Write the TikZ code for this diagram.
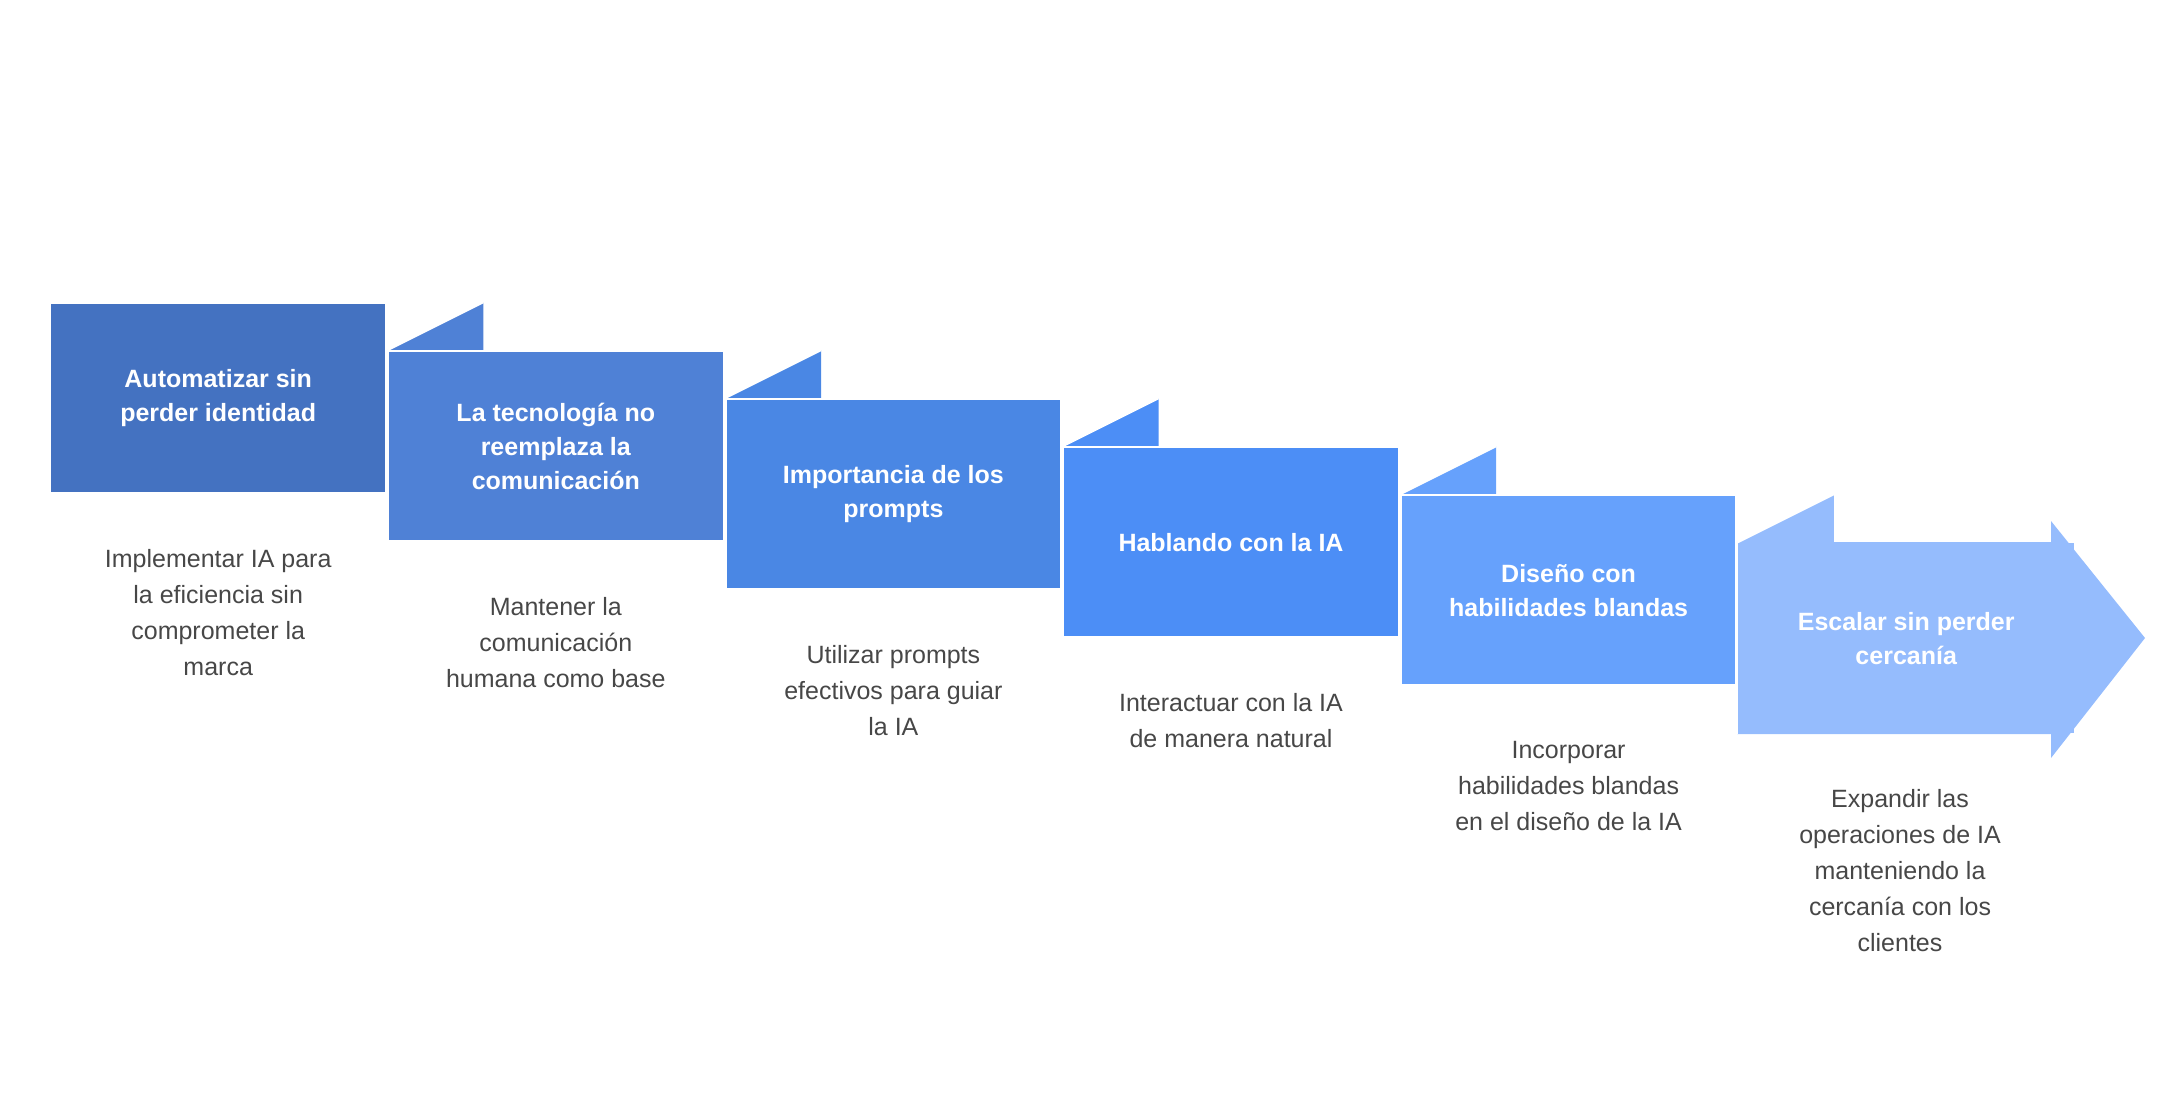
\documentclass[tikz,border=0pt]{standalone}
\usepackage{fontspec}
\setmainfont{Liberation Sans}
\begin{document}
\begin{tikzpicture}[x=0.5pt,y=-0.5pt,
  box/.style={rectangle,draw=white,line width=1.2pt,minimum width=168pt,minimum height=95pt,anchor=north west,inner sep=0pt,align=center,text=white,font=\bfseries\fontsize{12.5}{17}\selectfont},
  desc/.style={anchor=north,align=center,text=black!72,font=\fontsize{12.5}{18}\selectfont},
  tabline/.style={draw=white,line width=1.2pt}]
\useasboundingbox (0,0) rectangle (2184,1116);
\definecolor{c1}{HTML}{4472C1}
\definecolor{c2}{HTML}{4F81D6}
\definecolor{c3}{HTML}{4A87E4}
\definecolor{c4}{HTML}{4C8EF6}
\definecolor{c5}{HTML}{66A1FC}
\definecolor{c6}{HTML}{95BCFD}
% arrow (box 6)
\fill[c6] (1737,542) -- (2051,542) -- (2051,521) -- (2145,638) -- (2051,758) -- (2051,734) -- (1737,734) -- cycle;
\node[box,fill=c6,draw=none] (b6) at (1737,542) {Escalar sin perder\\cercanía};
\draw[white,line width=1.2pt] (1737,542) -- (1737,734);
\foreach \i/\c/\n/\t in {0/c1/c2/{Automatizar sin\\perder identidad},1/c2/c3/{La tecnología no\\reemplaza la\\comunicación},2/c3/c4/{Importancia de los\\prompts},3/c4/c5/{Hablando con la IA},4/c5/c6/{Diseño con\\habilidades blandas}}{
  \node[box,fill=\c] (b\i) at ({49+337.6*\i},{302+48*\i}) {\t};
  \fill[\n] (b\i.east |- 0,{350+48*\i}) -- ++(96,-48) -- ++(0,48) -- cycle;
  \draw[tabline] (b\i.east |- 0,{350+48*\i}) -- ++(96,-48);
}
\node[desc] (d0) at (b0.south |- 0,542) {Implementar IA para\\la eficiencia sin\\comprometer la\\marca};
\node[desc] (d1) at (b1.south |- 0,590) {Mantener la\\comunicación\\humana como base};
\node[desc] (d2) at (b2.south |- 0,638) {Utilizar prompts\\efectivos para guiar\\la IA};
\node[desc] (d3) at (b3.south |- 0,686) {Interactuar con la IA\\de manera natural};
\node[desc] (d4) at (b4.south |- 0,734) {Incorporar\\habilidades blandas\\en el diseño de la IA};
\node[desc] (d5) at (1900,782) {Expandir las\\operaciones de IA\\manteniendo la\\cercanía con los\\clientes};
\end{tikzpicture}
\end{document}
